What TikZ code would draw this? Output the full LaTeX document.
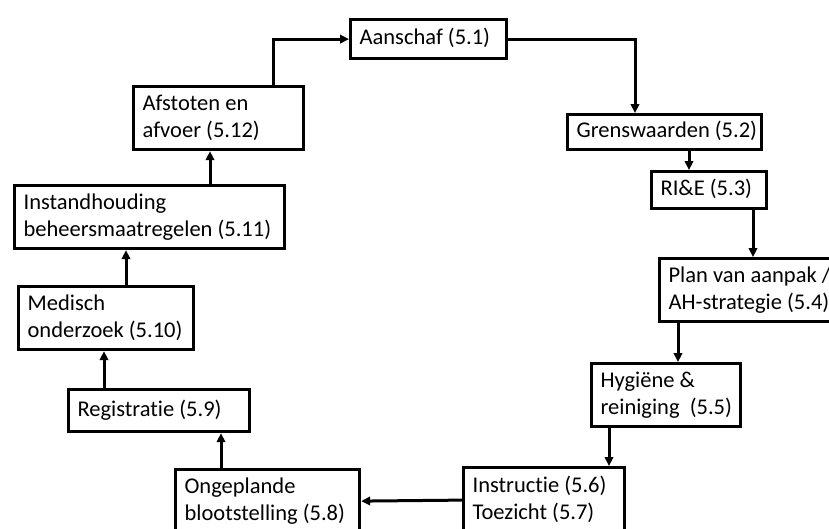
\documentclass[tikz,border=0pt]{standalone}
\usepackage{fontspec}
\setmainfont{Carlito}[Ligatures=NoCommon]
\usetikzlibrary{arrows.meta}
\begin{document}
\begin{tikzpicture}[x=1pt,y=-1pt,
  boxstyle/.style={draw=black,line width=3.2pt,rectangle,inner xsep=9pt,inner ysep=0pt,
    anchor=north west,font=\fontsize{22.5}{27}\selectfont},
  arr/.style={line width=3pt,-{Triangle[length=9pt,width=8.5pt]}},
  ln/.style={line width=3pt}]
\useasboundingbox (0,0) rectangle (829,528);
\clip (0,0) rectangle (829,528);
\fill[white] (0,0) rectangle (829,528);
\newcommand{\mybox}[6]{%
  \node[boxstyle,minimum width={#4-#2},minimum height={#5-#3}] (#1) at (#2,#3)
    {\makebox[\dimexpr #4pt-#2pt-18pt\relax][l]{\begin{tabular}{@{}l@{}}#6\end{tabular}}};}
\mybox{aan}{349}{18}{505}{57}{Aanschaf (5.1)}
\mybox{gren}{566}{113}{760}{148}{Grenswaarden (5.2)}
\mybox{rie}{650}{170}{765}{207}{RI\&E (5.3)}
\mybox{plan}{658}{257}{845}{320}{Plan van aanpak /\\AH-strategie (5.4)}
\mybox{hyg}{590}{362}{739}{425}{Hygiëne \&\\reiniging~ (5.5)}
\mybox{instr}{462}{466}{623}{531}{Instructie (5.6)\\Toezicht (5.7)}
\mybox{ong}{174}{468}{358}{531}{Ongeplande\\blootstelling (5.8)}
\mybox{reg}{67}{388}{248}{430}{Registratie (5.9)}
\mybox{med}{17}{285}{192}{348}{Medisch\\onderzoek (5.10)}
\mybox{inst}{13}{184}{283}{247}{Instandhouding\\beheersmaatregelen (5.11)}
\mybox{afst}{132}{85}{302}{148}{Afstoten en\\afvoer (5.12)}
\coordinate (xa) at (273,0);
\coordinate (xb) at (635,0);
\coordinate (xc) at (689,0);
\coordinate (xd) at (753,0);
\coordinate (xe) at (678,0);
\coordinate (xf) at (609,0);
\coordinate (xg) at (221,0);
\coordinate (xh) at (104,0);
\coordinate (xi) at (126,0);
\coordinate (xj) at (210,0);
\draw[arr] (afst.north -| xa) |- (aan.west);
\draw[arr] (aan.east) -| (gren.north -| xb);
\draw[arr] (gren.south -| xc) -- (rie.north -| xc);
\draw[arr] (rie.south -| xd) -- (plan.north -| xd);
\draw[arr] (plan.south -| xe) -- (hyg.north -| xe);
\draw[arr] (hyg.south -| xf) -- (instr.north -| xf);
\draw[arr] (instr.west) -- (ong.east);
\draw[arr] (ong.north -| xg) -- (reg.south -| xg);
\draw[arr] (reg.north -| xh) -- (med.south -| xh);
\draw[arr] (med.north -| xi) -- (inst.south -| xi);
\draw[arr] (inst.north -| xj) -- (afst.south -| xj);
\end{tikzpicture}
\end{document}
